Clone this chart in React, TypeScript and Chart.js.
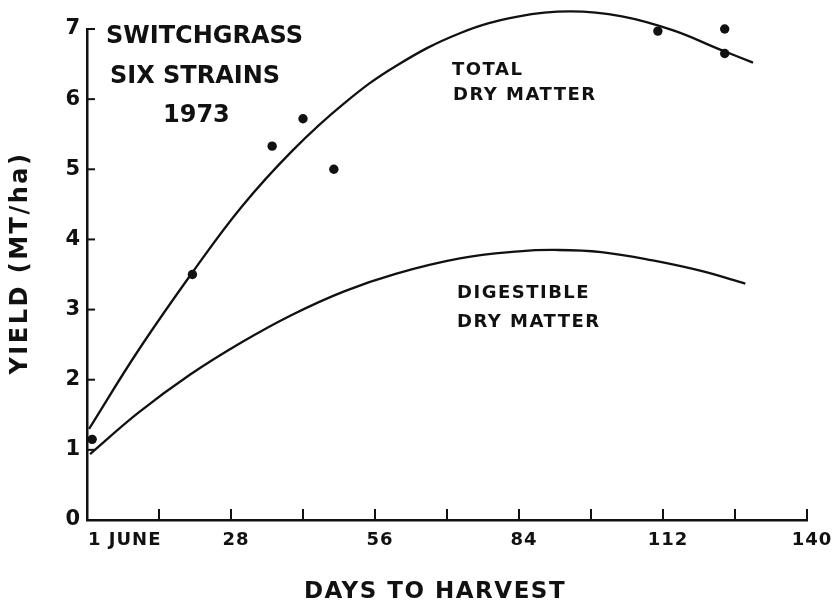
import React, { useEffect, useRef } from "react";
import { Chart, registerables } from "chart.js";

Chart.register(...registerables);

// Observed yields (MT/ha) vs days to harvest
const observedDays = [1, 20.5, 36, 42, 48, 111, 124, 124];
const observedYield = [1.15, 3.5, 5.33, 5.72, 5.0, 6.97, 7.0, 6.65];

// Fitted curve: total dry matter
const totalDays = [0.4, 10, 20.7, 30, 40, 50, 60, 72.5, 84, 94, 104, 114, 123, 129.5];
const totalYield = [1.3, 2.42, 3.55, 4.46, 5.27, 5.94, 6.47, 6.94, 7.18, 7.25, 7.18, 6.98, 6.71, 6.52];

// Fitted curve: digestible dry matter
const digestDays = [0.6, 10, 20, 30, 40, 50, 60, 72.5, 84, 91, 100, 110, 120, 128];
const digestYield = [0.94, 1.53, 2.07, 2.53, 2.93, 3.26, 3.51, 3.73, 3.83, 3.85, 3.82, 3.7, 3.54, 3.37];

// Axis labels
const xLabelDays = [0, 28, 56, 84, 112, 140];
const xLabelTexts = ["1 JUNE", "28", "56", "84", "112", "140"];
const titleLines = ["SWITCHGRASS", "SIX STRAINS", "1973"];
const totalLabel = ["TOTAL", "DRY MATTER"];
const digestLabel = ["DIGESTIBLE", "DRY MATTER"];
const xTitle = "DAYS TO HARVEST";
const yTitle = "YIELD (MT/ha)";

const INK = "#111";
const FONT = '"DejaVu Sans"';

const toPoints = (xs: number[], ys: number[]) => xs.map((x, i) => ({ x, y: ys[i] }));

const decor = {
  id: "decor",
  afterDraw(chart: any) {
    const { ctx, chartArea } = chart;
    const xs = chart.scales.x;
    const ys = chart.scales.y;
    ctx.save();
    ctx.strokeStyle = INK;
    ctx.lineWidth = 2;
    ctx.lineCap = "butt";
    // inward tick marks
    xs.ticks.forEach((t: any) => {
      if (t.value === 0) return;
      const px = xs.getPixelForValue(t.value);
      ctx.beginPath();
      ctx.moveTo(px, chartArea.bottom);
      ctx.lineTo(px, chartArea.bottom - 11);
      ctx.stroke();
    });
    ys.ticks.forEach((t: any) => {
      if (t.value === 0) return;
      const py = ys.getPixelForValue(t.value);
      ctx.beginPath();
      ctx.moveTo(chartArea.left, py);
      ctx.lineTo(chartArea.left + 8, py);
      ctx.stroke();
    });

    ctx.fillStyle = INK;
    ctx.textBaseline = "alphabetic";

    // x tick labels
    ctx.font = `bold 18px ${FONT}`;
    (ctx as any).letterSpacing = "1px";
    xLabelDays.forEach((d, i) => {
      const px = xs.getPixelForValue(d);
      if (i === 0) {
        ctx.textAlign = "left";
        ctx.fillText(xLabelTexts[i], px + 1, 545);
      } else {
        ctx.textAlign = "center";
        ctx.fillText(xLabelTexts[i], px + 5, 545);
      }
    });

    // title block
    ctx.textAlign = "left";
    ctx.font = `bold 24px ${FONT}`;
    (ctx as any).letterSpacing = "0px";
    ctx.fillText(titleLines[0], 106, 43);
    ctx.fillText(titleLines[1], 110, 83);
    ctx.fillText(titleLines[2], 163, 122);

    // curve labels
    ctx.font = `bold 18px ${FONT}`;
    (ctx as any).letterSpacing = "1.5px";
    ctx.fillText(totalLabel[0], 452, 75);
    ctx.fillText(totalLabel[1], 453, 100);
    ctx.fillText(digestLabel[0], 457, 298);
    ctx.fillText(digestLabel[1], 457, 327);

    // x title
    ctx.font = `bold 23px ${FONT}`;
    (ctx as any).letterSpacing = "1.5px";
    ctx.textAlign = "center";
    ctx.fillText(xTitle, 435, 598);

    // y title
    ctx.save();
    ctx.translate(27, 263);
    ctx.rotate(-Math.PI / 2);
    ctx.font = `bold 24px ${FONT}`;
    (ctx as any).letterSpacing = "2.5px";
    ctx.textAlign = "center";
    ctx.fillText(yTitle, 0, 0);
    ctx.restore();

    ctx.restore();
  },
};

export default function App() {
  const ref = useRef<HTMLCanvasElement | null>(null);

  useEffect(() => {
    const canvas = ref.current;
    if (!canvas) return;
    const chart = new Chart(canvas, {
      type: "scatter",
      data: {
        datasets: [
          {
            label: "Total dry matter",
            data: toPoints(totalDays, totalYield),
            showLine: true,
            borderColor: INK,
            borderWidth: 2.3,
            pointRadius: 0,
            tension: 0.4,
            clip: false,
          } as any,
          {
            label: "Digestible dry matter",
            data: toPoints(digestDays, digestYield),
            showLine: true,
            borderColor: INK,
            borderWidth: 2.3,
            pointRadius: 0,
            tension: 0.4,
            clip: false,
          } as any,
          {
            label: "Observed",
            data: toPoints(observedDays, observedYield),
            showLine: false,
            pointRadius: 4.7,
            pointBackgroundColor: INK,
            pointBorderWidth: 0,
            clip: false,
          } as any,
        ],
      },
      options: {
        animation: false,
        responsive: false,
        events: [],
        layout: { padding: { left: 0, top: 29, right: 27, bottom: 0 } },
        plugins: { legend: { display: false }, tooltip: { enabled: false } },
        scales: {
          x: {
            type: "linear",
            min: 0,
            max: 140,
            ticks: { stepSize: 14, display: false },
            grid: { display: false, drawTicks: false },
            border: { display: true, color: INK, width: 2.5 },
            afterFit: (s: any) => {
              s.height = 82;
            },
          },
          y: {
            type: "linear",
            min: 0,
            max: 7,
            ticks: {
              stepSize: 1,
              color: INK,
              padding: 7,
              font: { family: "DejaVu Sans", weight: "bold", size: 21 },
            },
            grid: { display: false, drawTicks: false },
            border: { display: true, color: INK, width: 2.5 },
            afterFit: (s: any) => {
              s.width = 87;
            },
          },
        },
      } as any,
      plugins: [decor],
    });
    return () => chart.destroy();
  }, []);

  return (
    <div style={{ position: "absolute", left: 0, top: 0, width: 834, height: 602, background: "#fff" }}>
      <canvas ref={ref} width={834} height={602} style={{ display: "block" }} />
    </div>
  );
}
